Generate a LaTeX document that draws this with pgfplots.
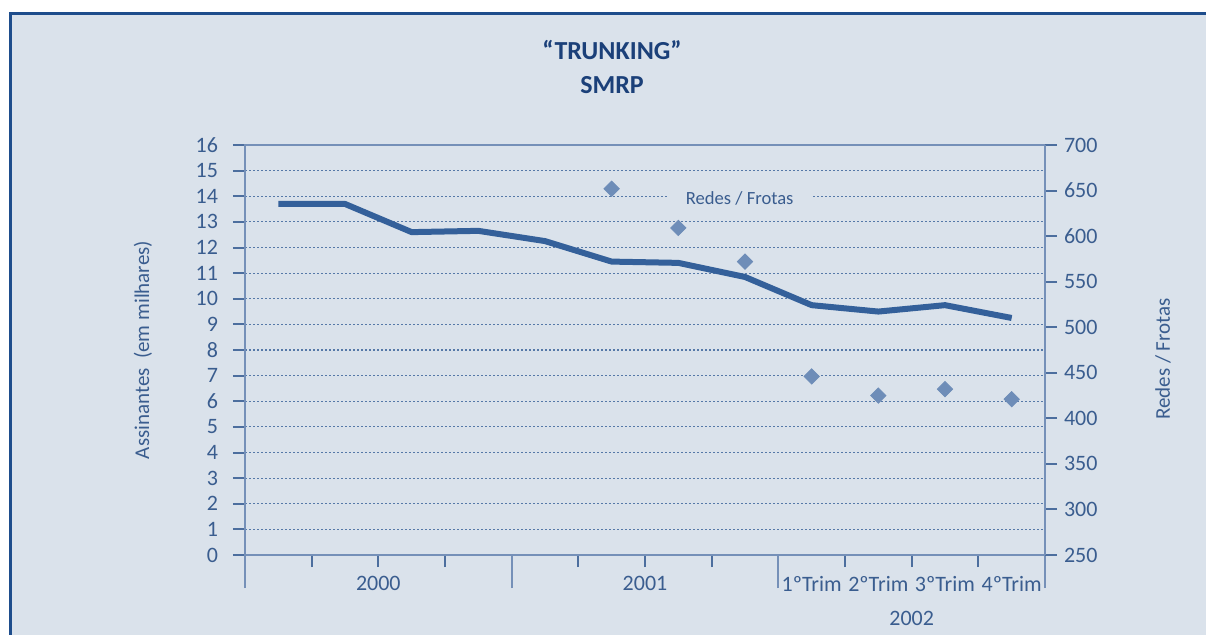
\documentclass[border=0pt]{standalone}
\usepackage{fontspec}
\setmainfont{Carlito}
\usepackage{pgfplots}
\pgfplotsset{compat=1.18}
\definecolor{bg}{HTML}{DAE2EB}
\definecolor{framec}{HTML}{1E4D8C}
\definecolor{titlec}{HTML}{1B4079}
\definecolor{labc}{HTML}{3A5D8F}
\definecolor{linec}{HTML}{34609A}
\definecolor{diamc}{HTML}{6E8DB8}
\definecolor{axisc}{HTML}{7590B8}
\definecolor{tickc}{HTML}{4C6E9E}
\definecolor{gridc}{HTML}{5679A8}
\begin{document}
\begin{tikzpicture}
\useasboundingbox (0,0) rectangle (603pt,317pt);
\fill[white] (0,0) rectangle (603pt,317pt);
\fill[bg] (5pt,-10pt) rectangle (620pt,310.5pt);
\draw[framec, line width=1.5pt] (5pt,-10pt) -- (5pt,310.5pt) -- (620pt,310.5pt);
\node[font=\bfseries\fontsize{13}{17}\selectfont, text=titlec, align=center] at (306pt,283.5pt) {“TRUNKING”\\SMRP};

% left axis: subscribers
\begin{axis}[
  scale only axis, width=400pt, height=205pt,
  at={(122.5pt,39.5pt)}, anchor=south west,
  xmin=0, xmax=12, ymin=0, ymax=16,
  axis line style={draw=axisc, line width=1pt},
  tick align=outside, major tick length=6pt,
  tick style={draw=tickc, line width=1pt},
  ytick={0,...,16}, ytick pos=left,
  xtick={1,2,3,5,6,7,9,10,11}, xticklabels={}, xtick pos=left,
  extra x ticks={0,4,8,12}, extra x tick labels={},
  extra x tick style={major tick length=16.5pt, tick style={draw=axisc, line width=1pt}},
  ymajorgrids, grid style={draw=gridc, line width=0.6pt, dash pattern=on 1.2pt off 0.8pt},
  /pgf/number format/assume math mode=true,
  yticklabel style={font=\fontsize{11}{13}\selectfont, text=labc, xshift=-4pt},
  ylabel={Assinantes\ \ (em milhares)},
  every axis y label/.style={at={(axis description cs:0,0.5)}, xshift=-51pt, rotate=90, anchor=center, font=\fontsize{10.5}{12}\selectfont, text=labc},
]
\addplot[linec, line width=3pt, line join=round] coordinates {
  (0.5,13.7) (1.5,13.7) (2.5,12.6) (3.5,12.65) (4.5,12.25) (5.5,11.45)
  (6.5,11.4) (7.5,10.85) (8.5,9.75) (9.5,9.5) (10.5,9.75) (11.5,9.25)};
\node[fill=bg, inner xsep=9pt, inner ysep=1pt, font=\fontsize{9.3}{11}\selectfont, text=labc] at (axis cs:7.42,13.9) {Redes / Frotas};
\end{axis}

% right axis: networks / fleets
\begin{axis}[
  scale only axis, width=400pt, height=205pt,
  at={(122.5pt,39.5pt)}, anchor=south west,
  xmin=0, xmax=12, ymin=250, ymax=700,
  axis y line*=right, axis x line=none,
  y axis line style={draw=axisc, line width=1pt},
  tick align=outside, major tick length=6pt,
  tick style={draw=tickc, line width=1pt},
  ytick={250,300,...,700},
  /pgf/number format/assume math mode=true,
  yticklabel style={font=\fontsize{11}{13}\selectfont, text=labc},
  ylabel={Redes / Frotas},
  every axis y label/.style={at={(axis description cs:1,0.478)}, xshift=59pt, rotate=90, anchor=center, font=\fontsize{10.5}{12}\selectfont, text=labc},
]
\addplot[only marks, mark=square*, mark size=2.7pt, mark options={rotate=45, fill=diamc, draw=diamc}] coordinates {
  (5.5,652) (6.5,609) (7.5,572) (8.5,446) (9.5,425) (10.5,432) (11.5,421)};
\end{axis}

% x labels
\begin{axis}[
  scale only axis, width=400pt, height=205pt,
  at={(122.5pt,39.5pt)}, anchor=south west,
  xmin=0, xmax=12, ymin=0, ymax=1,
  hide y axis, axis line style={draw=none},
  major tick length=0pt, tick style={draw=none}, xtick pos=left,
  xtick={2,6,8.5,9.5,10.5,11.5},
  xticklabels={2000,2001,1ºTrim,2ºTrim,3ºTrim,4ºTrim},
  xticklabel style={font=\fontsize{11}{13}\selectfont, text=labc, yshift=-7pt},
  extra x ticks={10}, extra x tick labels={2002},
  extra x tick style={tick label style={yshift=-17.5pt}},
]
\addplot[draw=none] coordinates {(0,0)};
\end{axis}
\end{tikzpicture}
\end{document}
